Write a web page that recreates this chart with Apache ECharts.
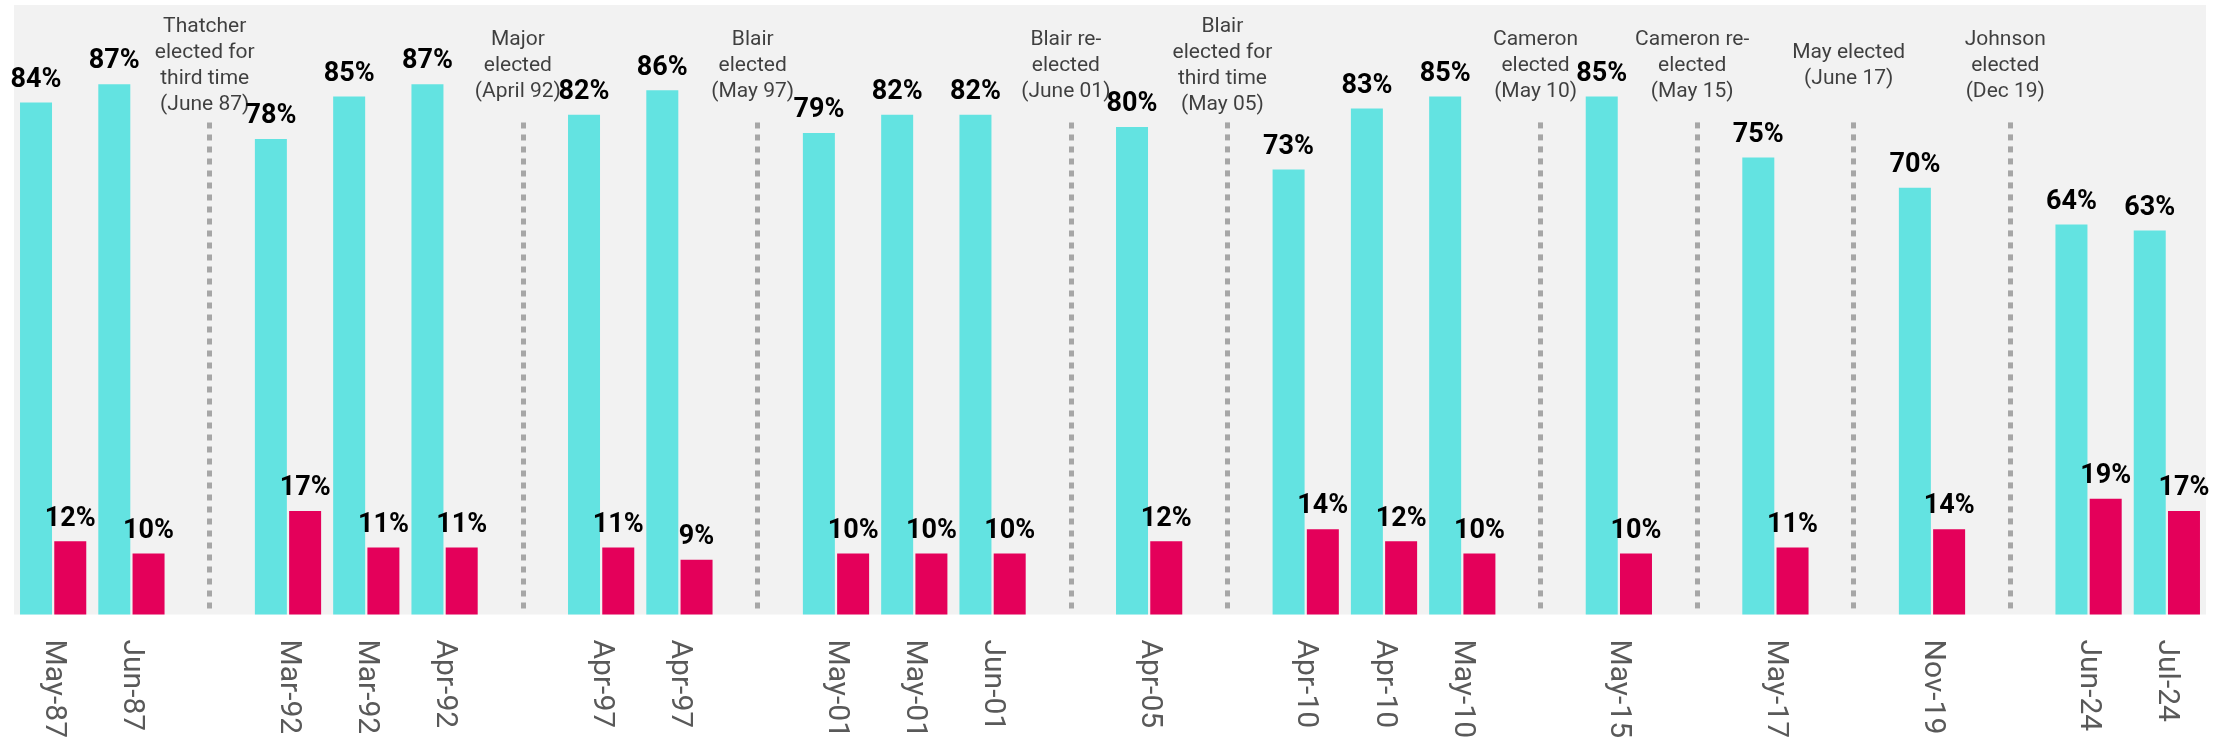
<!DOCTYPE html>
<html>
<head>
<meta charset="utf-8">
<title>Election polls</title>
<script src="https://cdn.jsdelivr.net/npm/echarts@6/dist/echarts.min.js"></script>
<style>
  html, body { margin: 0; padding: 0; background: #fff; }
  #chart { width: 2218px; height: 741px; }
</style>
</head>
<body>
<div id="chart"></div>
<script>
// '' = gap slot where an election marker sits
var categories = ['May-87', 'Jun-87', '', 'Mar-92', 'Mar-92', 'Apr-92', '', 'Apr-97', 'Apr-97', '',
  'May-01', 'May-01', 'Jun-01', '', 'Apr-05', '', 'Apr-10', 'Apr-10', 'May-10', '',
  'May-15', '', 'May-17', '', 'Nov-19', '', 'Jun-24', 'Jul-24'];

var cyanValues = [84, 87, null, 78, 85, 87, null, 82, 86, null,
  79, 82, 82, null, 80, null, 73, 83, 85, null,
  85, null, 75, null, 70, null, 64, 63];

var redValues = [12, 10, null, 17, 11, 11, null, 11, 9, null,
  10, 10, 10, null, 12, null, 14, 12, 10, null,
  10, null, 11, null, 14, null, 19, 17];

var eventLabels = ['', '', 'Thatcher\nelected for\nthird time\n(June 87)', '', '', '', 'Major\nelected\n(April 92)', '', '', 'Blair\nelected\n(May 97)',
  '', '', '', 'Blair re-\nelected\n(June 01)', '', 'Blair\nelected for\nthird time\n(May 05)', '', '', '', 'Cameron\nelected\n(May 10)',
  '', 'Cameron re-\nelected\n(May 15)', '', 'May elected\n(June 17)', '', 'Johnson\nelected\n(Dec 19)', '', ''];

var chart = echarts.init(document.getElementById('chart'));

var markerLines = [];
var markerTexts = [];
eventLabels.forEach(function (txt, i) {
  if (!txt) return;
  markerLines.push([{ coord: [i, 1] }, { coord: [i, 81] }]);
  markerTexts.push({ value: [i, 90], text: txt });
});

var valueLabel = {
  show: true,
  position: 'top',
  distance: 9,
  formatter: '{c}%',
  fontFamily: 'Roboto',
  fontWeight: 'bold',
  fontSize: 27,
  color: '#000'
};

var option = {
  animation: false,
  backgroundColor: '#fff',
  grid: {
    left: 14,
    right: 12,
    top: 5,
    bottom: 122,
    show: true,
    backgroundColor: '#f2f2f2',
    borderWidth: 0
  },
  xAxis: {
    type: 'category',
    data: categories,
    axisLine: { show: false },
    axisTick: { show: false },
    axisLabel: {
      interval: 0,
      rotate: -90,
      margin: 25,
      fontFamily: 'Roboto',
      fontSize: 30,
      color: '#595959'
    }
  },
  yAxis: {
    type: 'value',
    min: 0,
    max: 100,
    show: false,
    splitLine: { show: false }
  },
  series: [
    {
      name: 'cyan',
      type: 'bar',
      data: cyanValues,
      barWidth: 32,
      barGap: '7%',
      itemStyle: { color: '#63e3e1' },
      label: valueLabel
    },
    {
      name: 'red',
      type: 'bar',
      data: redValues,
      barWidth: 32,
      itemStyle: { color: '#e4005a' },
      label: valueLabel
    },
    {
      type: 'scatter',
      data: markerTexts,
      symbolSize: 0,
      silent: true,
      label: {
        show: true,
        position: 'inside',
        offset: [-5, 0],
        formatter: function (p) { return p.data.text; },
        fontFamily: 'Roboto',
        fontSize: 21,
        lineHeight: 26,
        color: '#111',
        align: 'center',
        verticalAlign: 'middle'
      },
      markLine: {
        silent: true,
        symbol: ['none', 'none'],
        label: { show: false },
        lineStyle: { color: '#a6a6a6', width: 5, type: [6, 6] },
        data: markerLines
      }
    }
  ]
};

chart.setOption(option);
</script>
</body>
</html>
